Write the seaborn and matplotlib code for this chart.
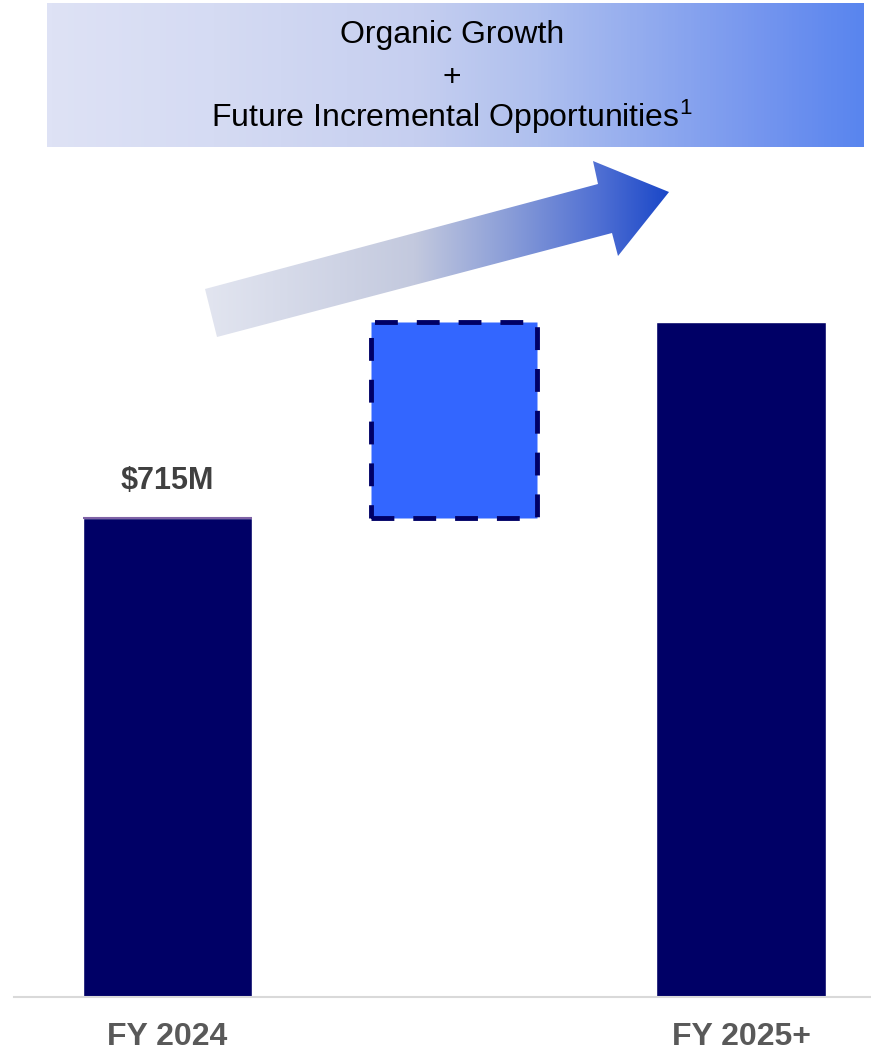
import numpy as np
import pandas as pd
import matplotlib.pyplot as plt
import matplotlib.patches as mpatches
from matplotlib.colors import LinearSegmentedColormap
import seaborn as sns

# data
categories = ["FY 2024", "Growth", "FY 2025+"]
tick_labels = ["FY 2024", "", "FY 2025+"]
base_value = 715
increment_value = 293
total_value = base_value + increment_value
value_labels = ["$715M"]
banner_lines = ["Organic Growth", "+", "Future Incremental Opportunities$^{1}$"]

sns.set_theme(style="white")
plt.rcParams["font.family"] = ["Liberation Sans", "DejaVu Sans"]
plt.rcParams["mathtext.fontset"] = "custom"
plt.rcParams["mathtext.rm"] = "Liberation Sans"
plt.rcParams["mathtext.it"] = "Liberation Sans"

W, H = 871, 1050
fig = plt.figure(figsize=(W / 100, H / 100), dpi=100)
ax = fig.add_axes([14 / W, 53 / H, 1 - 14 / W, (997 - 160) / H])

bars = pd.DataFrame({"period": ["FY 2024", "FY 2025+"],
                     "value": [base_value, total_value]})
sns.barplot(data=bars, x="period", y="value", order=categories,
            color="#000066", saturation=1, width=0.59, ax=ax)
# floating increment bar
ax.bar(1, increment_value, bottom=base_value, width=0.58, color="#3366FF",
       edgecolor="#000066", linewidth=3.5, linestyle=(0, (4.7, 3.9)), zorder=3)
ax.hlines(base_value, -0.295, 0.295, color="#7f62a6", lw=1.5, zorder=4)

ax.annotate(value_labels[0], xy=(0, base_value), xytext=(0, 16),
            textcoords="offset points", ha="center", va="bottom",
            fontsize=22, fontweight="bold", color="#404040")

ax.set_xlim(-0.535, 2.453)
ax.set_ylim(0, 1249)
ax.set_xticks([0, 1, 2])
ax.set_xticklabels(tick_labels, fontsize=23, fontweight="bold", color="#595959")
ax.tick_params(axis="x", length=0, pad=18)
ax.set_yticks([])
ax.set_xlabel("")
ax.set_ylabel("")
sns.despine(ax=ax, left=True)
ax.spines["bottom"].set_color("#d9d9d9")
ax.spines["bottom"].set_linewidth(1.5)

# overlay in pixel coords for banner + arrow
ov = fig.add_axes([0, 0, 1, 1], zorder=1)
ov.set_facecolor("none")
grad = np.linspace(0, 1, 256).reshape(1, -1)

banner_cmap = LinearSegmentedColormap.from_list("banner", [
    (0, "#dee2f5"), (0.2, "#d5dbf3"), (0.45, "#c6cff0"), (0.6, "#afc0ee"),
    (0.75, "#8fa9ee"), (0.88, "#7495ee"), (1, "#5985ee")])
ov.imshow(grad, cmap=banner_cmap, extent=(47, 863, 147, 3), aspect="auto",
          interpolation="bilinear")

arrow_pts = [(205, 289), (598, 184), (593, 161), (669, 192),
             (618, 256), (612, 233), (217, 337)]
arrow = mpatches.Polygon(arrow_pts, closed=True, facecolor="none", edgecolor="none")
ov.add_patch(arrow)
arrow_cmap = LinearSegmentedColormap.from_list("arrow", [
    (0, "#e2e5f0"), (0.45, "#c3c9de"), (0.65, "#8b9ed8"),
    (0.85, "#4f6fd3"), (1, "#1a47c8")])
im = ov.imshow(grad, cmap=arrow_cmap, extent=(205, 669, 337, 161),
               aspect="auto", interpolation="bilinear")
im.set_clip_path(arrow)

ov.set_xlim(0, W)
ov.set_ylim(H, 0)
ov.axis("off")

for line, ypix in zip(banner_lines, [35, 78, 117]):
    fig.text(452 / W, 1 - ypix / H, line, ha="center", va="center",
             fontsize=23, color="black")

fig.savefig("out.png", dpi=100)
